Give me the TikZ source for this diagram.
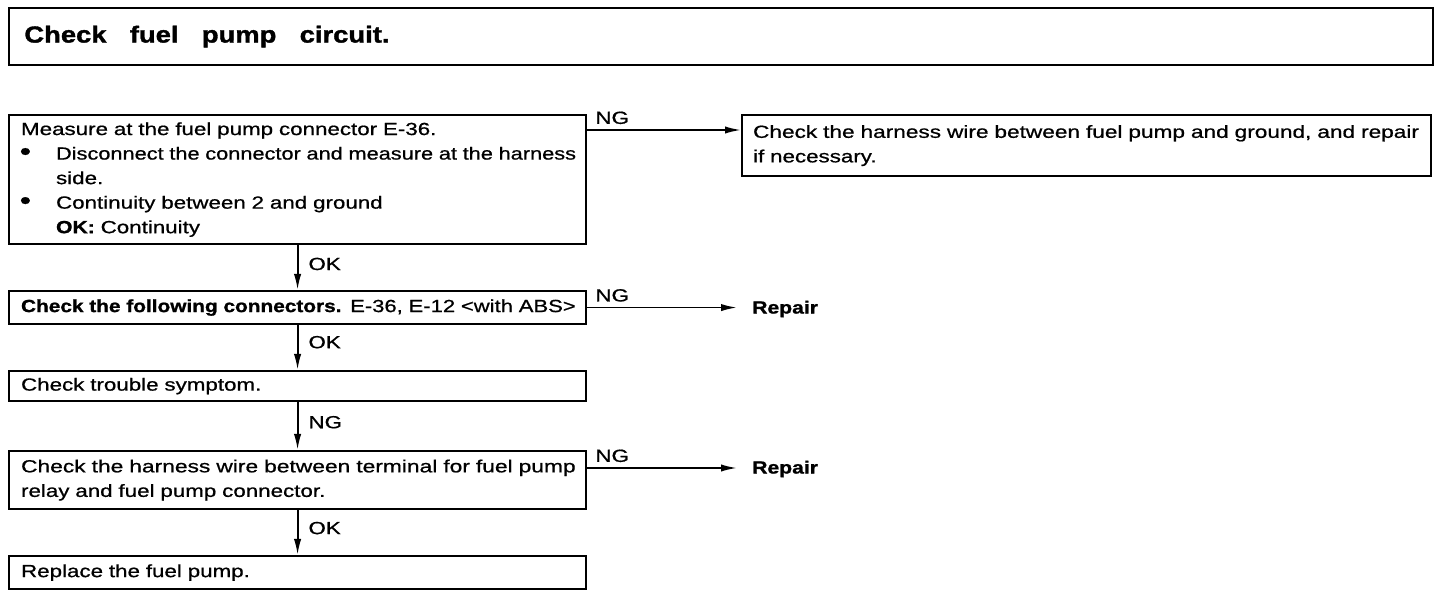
\documentclass[tikz,border=0pt]{standalone}
\usepackage{fontspec}
\setmainfont{Liberation Sans}[FakeStretch=1.27,FakeBold=0.8,BoldFeatures={FakeStretch=1.2,FakeBold=1.2}]
\newfontfamily\titlefont{Liberation Sans}[FakeStretch=1.18,BoldFeatures={FakeStretch=1.18,FakeBold=1.5}]
\usetikzlibrary{arrows.meta,calc}
\newcommand\bul{\makebox[26.25pt][l]{\hspace*{-1pt}\raisebox{-0.3pt}{\scalebox{1.45}{\textbullet}}}}
\newcommand\fitline[2]{\resizebox{#1}{\height}{#2}}
\begin{document}
\begin{tikzpicture}[x=0.75pt,y=-0.75pt,
  box/.style={draw,line width=1.6pt,anchor=north west,inner xsep=9pt,inner ysep=0pt,
    align=left,font=\fontsize{13.2}{18.4}\selectfont},
  flow/.style={line width=1.4pt,-{Latex[length=12pt,width=5.5pt]}},
  lab/.style={font=\fontsize{13.2}{16}\selectfont,inner sep=0pt}]
\useasboundingbox (0,0) rectangle (1440,598);

% title
\node[box,inner xsep=11.5pt,minimum width=1424*0.75pt,minimum height=57*0.75pt,
  text width=1045pt,font=\titlefont\fontsize{17.4}{19}\selectfont\bfseries] (title) at (8,7)
  {\raisebox{-1.5pt}{Check\hspace*{17.5pt}fuel\hspace*{17.5pt}pump\hspace*{17.5pt}circuit.}};

% left column
\node[box,minimum width=432.75pt,minimum height=96.75pt,text width=414.75pt] (b1) at (8,114)
  {\mbox{Measure at the fuel pump connector E-36.}\\
   \bul\fitline{390pt}{Disconnect the connector and measure at the harness}\\
   \hspace*{26.25pt}side.\\
   \bul Continuity between 2 and ground\\
   \hspace*{26.25pt}\textbf{OK:} Continuity};

\node[box,minimum width=432.75pt,minimum height=24.75pt,text width=414.75pt] (b3) at (8,290)
  {\fitline{416pt}{\textbf{Check the following connectors.} E-36, E-12 <with ABS>}};

\node[box,minimum width=432.75pt,minimum height=22.5pt,text width=414.75pt] (b4) at (8,370)
  {Check trouble symptom.};

\node[box,minimum width=432.75pt,minimum height=43.5pt,text width=414.75pt] (b5) at (8,450)
  {\fitline{416pt}{Check the harness wire between terminal for fuel pump}\\
   relay and fuel pump connector.};

\node[box,minimum width=432.75pt,minimum height=24.75pt,text width=414.75pt] (b6) at (8,555)
  {Replace the fuel pump.};

% right column
\node[box,inner xsep=8.25pt,minimum width=516.75pt,minimum height=45.75pt,text width=500.25pt] (b2) at (741,114)
  {\fitline{499.5pt}{Check the harness wire between fuel pump and ground, and repair}\\
   if necessary.};

\node[lab,anchor=west,inner xsep=11.25pt,font=\fontsize{13.2}{16}\selectfont\bfseries] (r1) at (737,309) {Repair};
\node[lab,anchor=west,inner xsep=11.25pt,font=\fontsize{13.2}{16}\selectfont\bfseries] (r2) at (737,469) {Repair};

% connectors
\coordinate (ng1) at ($(b1.north east)+(0,16)$);
\coordinate (ng3) at ($(b5.north east)+(0,18)$);

\draw[flow] (ng1) -- node[lab,pos=0,anchor=south west,xshift=5.5pt,yshift=3.75pt]{NG} (ng1 -| b2.west);
\draw[flow] (b3.east) -- node[lab,pos=0,anchor=south west,xshift=5.5pt,yshift=3.75pt]{NG} (b3.east -| r1.west);
\draw[flow] (ng3) -- node[lab,pos=0,anchor=south west,xshift=5.5pt,yshift=3.75pt]{NG} (ng3 -| r2.west);

\draw[flow] (b1.south) -- node[lab,pos=0.42,anchor=west,xshift=7.5pt]{OK} (b3.north);
\draw[flow] (b3.south) -- node[lab,pos=0.38,anchor=west,xshift=7.5pt]{OK} (b4.north);
\draw[flow] (b4.south) -- node[lab,pos=0.42,anchor=west,xshift=7.5pt]{NG} (b5.north);
\draw[flow] (b5.south) -- node[lab,pos=0.4,anchor=west,xshift=7.5pt]{OK} (b6.north);
\end{tikzpicture}
\end{document}
